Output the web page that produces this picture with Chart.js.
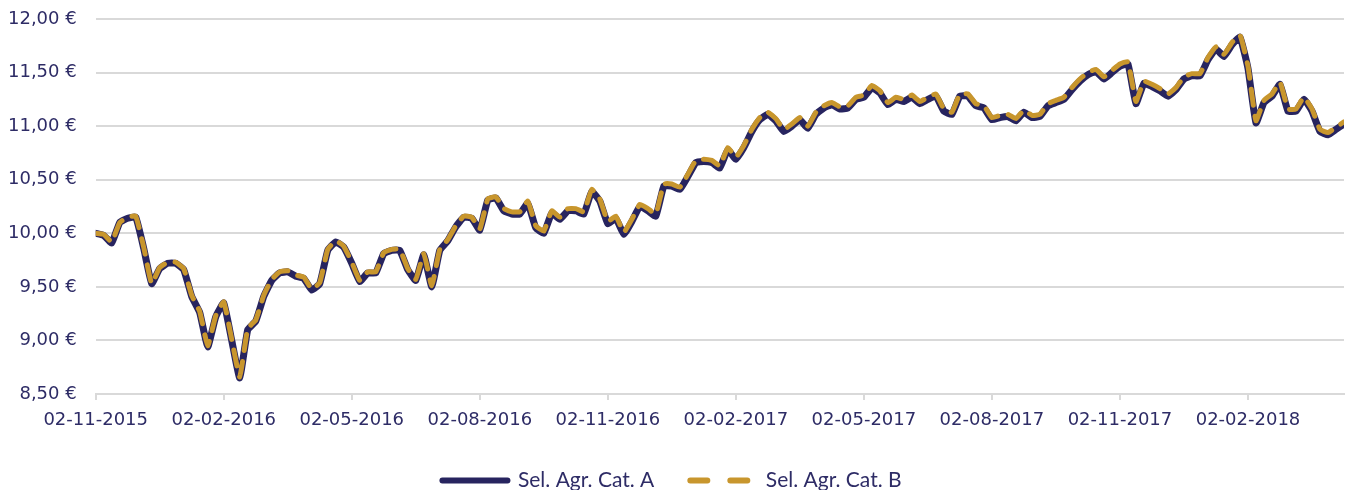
<!DOCTYPE html>
<html>
<head>
<meta charset="utf-8">
<script src="https://cdn.jsdelivr.net/npm/chart.js@4.4.1/dist/chart.umd.min.js"></script>
<style>
  html, body { margin: 0; padding: 0; background: #fff; }
  #wrap { width: 1346px; height: 490px; position: relative; }
</style>
</head>
<body>
<div id="wrap"><canvas id="navChart"></canvas></div>
<script>
  // x axis labels, one every 16 points
  const tickLabels = [
    "02-11-2015", "02-02-2016", "02-05-2016", "02-08-2016", "02-11-2016",
    "02-02-2017", "02-05-2017", "02-08-2017", "02-11-2017", "02-02-2018"
  ];
  const pointsPerTick = 16;

  const seriesNames = ["Sel. Agr. Cat. A", "Sel. Agr. Cat. B"];

  // values (€), one point every ~4 trading days
  const selAgrA = [
    10.00, 9.98, 9.91, 10.10, 10.14, 10.15, 9.86, 9.53, 9.67, 9.72,
    9.72, 9.66, 9.41, 9.26, 8.94, 9.22, 9.35, 9.00, 8.65, 9.10,
    9.18, 9.41, 9.56, 9.63, 9.64, 9.60, 9.58, 9.47, 9.53, 9.84,
    9.92, 9.87, 9.72, 9.55, 9.63, 9.63, 9.81, 9.84, 9.84, 9.66,
    9.56, 9.80, 9.50, 9.84, 9.93, 10.06, 10.15, 10.14, 10.03, 10.31,
    10.33, 10.21, 10.18, 10.18, 10.28, 10.05, 10.00, 10.19, 10.13, 10.21,
    10.21, 10.18, 10.39, 10.30, 10.09, 10.14, 9.99, 10.11, 10.25, 10.21,
    10.16, 10.44, 10.44, 10.41, 10.53, 10.66, 10.67, 10.66, 10.61, 10.78,
    10.69, 10.80, 10.95, 11.06, 11.11, 11.05, 10.95, 11.00, 11.06, 10.98,
    11.11, 11.17, 11.20, 11.16, 11.17, 11.25, 11.27, 11.36, 11.31, 11.20,
    11.25, 11.23, 11.27, 11.21, 11.25, 11.28, 11.14, 11.11, 11.28, 11.28,
    11.19, 11.17, 11.06, 11.08, 11.09, 11.05, 11.13, 11.08, 11.09, 11.19,
    11.22, 11.25, 11.34, 11.42, 11.48, 11.51, 11.44, 11.50, 11.56, 11.58,
    11.21, 11.40, 11.37, 11.33, 11.28, 11.34, 11.44, 11.47, 11.47, 11.62,
    11.72, 11.65, 11.76, 11.83, 11.54, 11.03, 11.22, 11.28, 11.39, 11.14,
    11.14, 11.25, 11.14, 10.95, 10.92, 10.97, 11.02
  ];
  const selAgrB = [
    10.00, 9.99, 9.92, 10.10, 10.15, 10.16, 9.87, 9.53, 9.68, 9.73,
    9.73, 9.67, 9.42, 9.27, 8.95, 9.23, 9.36, 9.01, 8.66, 9.11,
    9.19, 9.42, 9.57, 9.64, 9.65, 9.61, 9.59, 9.48, 9.54, 9.85,
    9.93, 9.88, 9.73, 9.56, 9.64, 9.64, 9.82, 9.85, 9.85, 9.67,
    9.57, 9.81, 9.51, 9.85, 9.94, 10.07, 10.16, 10.15, 10.04, 10.32,
    10.34, 10.23, 10.20, 10.20, 10.30, 10.07, 10.02, 10.21, 10.15, 10.23,
    10.23, 10.20, 10.41, 10.32, 10.11, 10.16, 10.01, 10.13, 10.27, 10.23,
    10.18, 10.46, 10.46, 10.43, 10.55, 10.68, 10.69, 10.68, 10.63, 10.80,
    10.71, 10.82, 10.97, 11.08, 11.13, 11.07, 10.97, 11.02, 11.08, 11.00,
    11.13, 11.19, 11.22, 11.18, 11.19, 11.27, 11.29, 11.38, 11.33, 11.22,
    11.27, 11.25, 11.29, 11.23, 11.27, 11.30, 11.16, 11.13, 11.30, 11.30,
    11.21, 11.19, 11.08, 11.10, 11.11, 11.07, 11.15, 11.10, 11.11, 11.21,
    11.24, 11.27, 11.36, 11.44, 11.50, 11.53, 11.46, 11.52, 11.58, 11.60,
    11.23, 11.42, 11.39, 11.35, 11.30, 11.36, 11.46, 11.49, 11.49, 11.64,
    11.74, 11.67, 11.78, 11.85, 11.56, 11.05, 11.24, 11.30, 11.41, 11.16,
    11.16, 11.27, 11.16, 10.97, 10.94, 10.99, 11.04
  ];

  const navy = "#27245f";
  const gold = "#c8962d";
  const textColor = "#2e2c66";
  const gridColor = "#d9d9d9";

  const toPoints = arr => arr.map((v, i) => ({ x: i, y: v }));

  // default legend items, but keep the dash of the line (point style drops it)
  const legendLabels = chart => {
    const items = Chart.defaults.plugins.legend.labels.generateLabels(chart);
    items.forEach(item => {
      const ds = chart.data.datasets[item.datasetIndex];
      item.lineDash = ds.borderDash ? [17, 23] : [];
      item.lineCap = "round";
      item.lineWidth = 6;
    });
    return items;
  };

  const ctx = document.getElementById("navChart").getContext("2d");
  const chart = new Chart(ctx, {
    type: "line",
    data: {
      datasets: [
        {
          label: seriesNames[0],
          data: toPoints(selAgrA),
          borderColor: navy,
          backgroundColor: navy,
          borderWidth: 7,
          borderCapStyle: "round",
          borderJoinStyle: "round",
          pointRadius: 0,
          tension: 0.12,
          order: 1
        },
        {
          label: seriesNames[1],
          data: toPoints(selAgrB),
          borderColor: gold,
          backgroundColor: gold,
          borderWidth: 5,
          borderDash: [16, 11],
          borderCapStyle: "round",
          borderJoinStyle: "round",
          pointRadius: 0,
          tension: 0.12,
          order: 0
        }
      ]
    },
    options: {
      responsive: true,
      maintainAspectRatio: false,
      animation: false,
      layout: { padding: { top: 19, right: 2, left: 0, bottom: -11 } },
      scales: {
        x: {
          type: "linear",
          min: 0,
          max: selAgrA.length - 1,
          afterFit: s => { s.height = 40; },
          grid: { drawOnChartArea: false, color: gridColor, lineWidth: 2, tickLength: 6 },
          border: { color: gridColor, width: 2 },
          ticks: {
            stepSize: pointsPerTick,
            includeBounds: false,
            autoSkip: false,
            maxRotation: 0,
            padding: 10,
            color: textColor,
            font: { family: "DejaVu Sans", size: 18 },
            callback: v => tickLabels[v / pointsPerTick] || ""
          }
        },
        y: {
          min: 8.5,
          max: 12,
          afterFit: s => { s.width = 95.7; },
          grid: { color: gridColor, lineWidth: 2, drawTicks: true, tickLength: 19, tickColor: "rgba(0,0,0,0)" },
          border: { display: false },
          ticks: {
            stepSize: 0.5,
            padding: 0,
            color: textColor,
            font: { family: "DejaVu Sans", size: 18 },
            callback: v => v.toFixed(2).replace(".", ",") + " €"
          }
        }
      },
      plugins: {
        tooltip: { enabled: false },
        legend: {
          position: "bottom",
          labels: {
            generateLabels: legendLabels,
            sort: (a, b) => a.datasetIndex - b.datasetIndex,
            usePointStyle: true,
            pointStyle: "line",
            pointStyleWidth: 65,
            padding: 36,
            color: textColor,
            font: { family: "Lato", size: 21 }
          }
        }
      }
    }
  });
</script>
</body>
</html>
